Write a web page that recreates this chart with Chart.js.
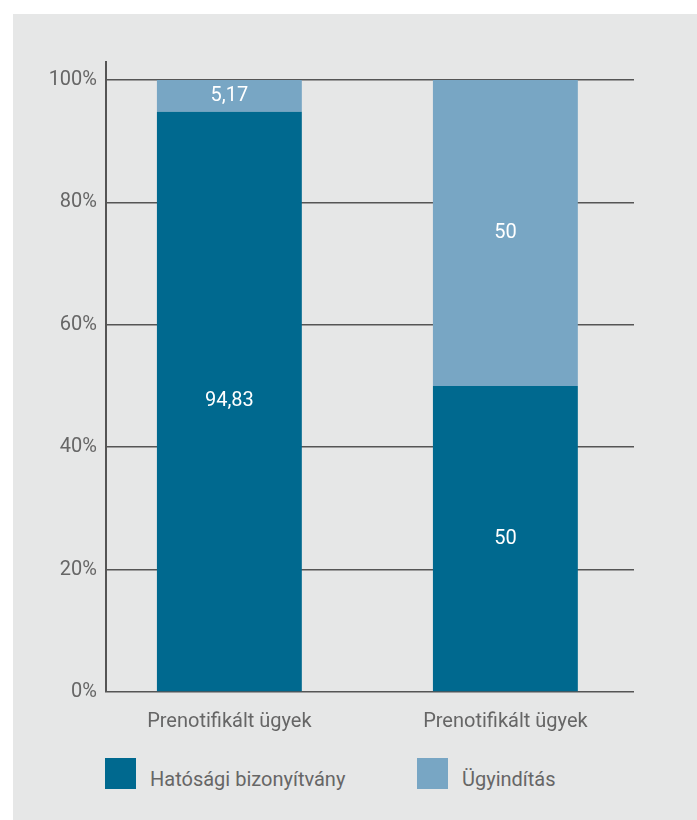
<!DOCTYPE html>
<html>
<head>
<meta charset="utf-8">
<script src="https://cdn.jsdelivr.net/npm/chart.js@4.4.1/dist/chart.umd.min.js"></script>
<style>
    body { margin: 0; background: #fff; font-family: Roboto, sans-serif; }
    #panel { position: absolute; left: 13px; top: 14px; width: 684px; height: 806px; background: #e6e7e7; }
    #wrap { position: absolute; left: 0; top: 0; width: 697px; height: 740px; }
    .lg-box { position: absolute; top: 758px; width: 31px; height: 31px; }
    .lg-text { position: absolute; top: 767px; font-size: 20px; line-height: 24px; color: #666; white-space: nowrap; }
</style>
</head>
<body>
<div id="panel"></div>
<div id="wrap"><canvas id="chart"></canvas></div>
<div id="legend"></div>
<script>
// DATA
const categories = ['Prenotifikált ügyek', 'Prenotifikált ügyek'];
const seriesNames = ['Hatósági bizonyítvány', 'Ügyindítás'];
const hatosagi = [94.83, 50];
const ugyinditas = [5.17, 50];
const yTicks = [0, 20, 40, 60, 80, 100];

const colors = ['#00698f', '#78a6c4'];
const textColor = '#666';

// DATA LABELS
const valueLabels = {
    id: 'valueLabels',
    afterDatasetsDraw(chart) {
        const { ctx } = chart;
        ctx.save();
        ctx.fillStyle = '#fff';
        ctx.font = '20px Roboto, sans-serif';
        ctx.textAlign = 'center';
        ctx.textBaseline = 'middle';
        chart.data.datasets.forEach((ds, di) => {
            chart.getDatasetMeta(di).data.forEach((bar, i) => {
                const txt = String(ds.data[i].y).replace('.', ',');
                ctx.fillText(txt, bar.x, (bar.y + bar.base) / 2);
            });
        });
        ctx.restore();
    }
};

const toPoints = arr => arr.map((v, i) => ({ x: i, y: v }));

new Chart(document.getElementById('chart'), {
    type: 'bar',
    data: {
        datasets: [
            { label: seriesNames[0], data: toPoints(hatosagi), backgroundColor: colors[0], barPercentage: 0.525, categoryPercentage: 1 },
            { label: seriesNames[1], data: toPoints(ugyinditas), backgroundColor: colors[1], barPercentage: 0.525, categoryPercentage: 1 }
        ]
    },
    options: {
        responsive: true,
        maintainAspectRatio: false,
        animation: false,
        layout: { padding: { top: 62, right: 63, left: 0, bottom: 0 } },
        plugins: { legend: { display: false }, tooltip: { enabled: false } },
        scales: {
            x: {
                type: 'linear',
                stacked: true,
                min: -0.447,
                max: 1.466,
                offset: false,
                grid: { display: false },
                border: { display: false },
                afterBuildTicks: s => { s.ticks = categories.map((c, i) => ({ value: i })); },
                afterFit: s => { s.height = 48; },
                ticks: {
                    padding: 10,
                    color: textColor,
                    font: { family: 'Roboto, sans-serif', size: 20 },
                    callback: v => categories[v]
                }
            },
            y: {
                stacked: true,
                min: 0,
                max: 102.94,
                afterBuildTicks: s => { s.ticks = yTicks.map(v => ({ value: v })); },
                afterFit: s => { s.width = 106; },
                grid: { color: '#555', lineWidth: 1.5, drawTicks: false },
                border: { display: true, color: '#555', width: 2 },
                ticks: {
                    padding: 9,
                    color: textColor,
                    font: { family: 'Roboto, sans-serif', size: 20 },
                    callback: v => v + '%'
                }
            }
        }
    },
    plugins: [valueLabels]
});

// LEGEND
const legend = document.getElementById('legend');
const legendX = [105, 417];
seriesNames.forEach((name, i) => {
    const box = document.createElement('div');
    box.className = 'lg-box';
    box.style.left = legendX[i] + 'px';
    box.style.background = colors[i];
    const txt = document.createElement('div');
    txt.className = 'lg-text';
    txt.style.left = (legendX[i] + 45) + 'px';
    txt.textContent = name;
    legend.appendChild(box);
    legend.appendChild(txt);
});
</script>
</body>
</html>
